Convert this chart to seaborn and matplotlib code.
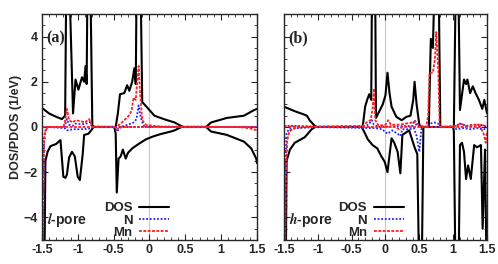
import matplotlib
matplotlib.use("Agg")
import matplotlib.pyplot as plt
import seaborn as sns
from matplotlib.ticker import MultipleLocator

# ---- panel (a): l-pore ----
a_dos_up_e = [-1.5, -1.4, -1.3, -1.22, -1.175, -1.155, -1.13, -1.065, -1.03, -0.99, -0.94, -0.91,
              -0.89, -0.875, -0.86, -0.83, -0.796, -0.78, -0.47, -0.44, -0.41, -0.35, -0.31, -0.28,
              -0.24, -0.21, -0.19, -0.175, -0.13, -0.10, -0.07, 0.07, 0.2, 0.35, 0.47, 0.79, 0.86,
              1.08, 1.32, 1.46, 1.5]
a_dos_up = [0.85, 0.6, 0.45, 0.35, 0.5, 8, 8, 0.6, 2.1, 1.65, 2.2, 2.0,
            2.7, 1.9, 8, 8, 0.1, 0, 0, 0.6, 1.45, 1.5, 1.85, 1.6,
            2.0, 2.6, 1.9, 8, 8, 1.1, 1.0, 0.5, 0.35, 0.2, 0, 0, 0.2,
            0.4, 0.5, 0.75, 0.8]
a_dos_dn_e = [-1.5, -1.47, -1.45, -1.42, -1.38, -1.3, -1.24, -1.2, -1.17, -1.15, -1.12, -1.08,
              -1.04, -1.0, -0.97, -0.93, -0.91, -0.85, -0.80, -0.78, -0.49, -0.47, -0.455,
              -0.43, -0.40, -0.37, -0.33, -0.30, -0.24, -0.15, -0.05, 0.05, 0.15, 0.3, 0.35,
              0.45, 0.79, 0.86, 1.08, 1.32, 1.42, 1.49, 1.5]
a_dos_dn = [-8, -8, -1.5, -1.1, -0.85, -0.75, -0.58, -2.2, -2.25, -2.1, -1.35, -1.1,
            -1.3, -2.2, -2.35, -1.2, -0.35, -0.3, -0.1, 0, 0, -0.3, -2.9,
            -1.4, -1.3, -1.0, -1.4, -1.15, -0.95, -0.75, -0.55, -0.42, -0.32, -0.2, -0.15,
            0, 0, -0.2, -0.35, -0.65, -0.95, -1.4, -1.6]
a_n_up_e = [-1.5, -1.2, -1.18, -1.15, -1.12, -1.07, -1.03, -0.95, -0.88, -0.83, -0.80, -0.40,
            -0.35, -0.3, -0.22, -0.18, -0.15, -0.12, -0.08, 0.0, 1.5]
a_n_up = [0, 0, 0.05, 0.35, 0.1, 0.05, 0.15, 0.12, 0.15, 0.22, 0.02, 0,
          0.05, 0.1, 0.2, 0.35, 0.95, 0.4, 0.05, 0.02, 0]
a_n_dn_e = [-1.49, -1.47, -1.45, -1.42, -1.18, -1.15, -1.1, -1.05, -0.95, -0.85, -0.8, -0.49,
            -0.45, -0.42, -0.38, 1.5]
a_n_dn = [-8, -0.6, -0.15, 0, -0.05, -0.15, -0.12, -0.1, -0.1, -0.08, 0, 0,
          -0.2, -0.05, 0, 0]
a_mn_up_e = [-1.5, -1.2, -1.18, -1.15, -1.12, -1.07, -1.03, -0.95, -0.9, -0.84, -0.8, -0.78,
             -0.46, -0.44, -0.4, -0.35, -0.3, -0.25, -0.22, -0.19, -0.17, -0.15, -0.13,
             -0.1, -0.05, 0.05, 0.2, 1.5]
a_mn_up = [0, 0, 0.2, 0.8, 0.3, 0.2, 0.3, 0.25, 0.2, 0.35, 0.05, 0,
           0, 0.05, 0.15, 0.3, 0.45, 0.7, 1.3, 1.2, 2.0, 2.7, 1.5,
           0.3, 0.1, 0.05, 0, 0]
a_mn_dn_e = [-1.49, -1.475, -1.46, -1.43, -1.4, -0.48, -0.45, -0.42, 1.2, 1.3, 1.4, 1.5]
a_mn_dn = [-8, -1.5, -0.3, -0.05, 0, 0, -0.1, 0, 0, -0.02, -0.06, -0.15]

# ---- panel (b): h-pore ----
b_dos_up_e = [-1.5, -1.34, -1.2, -1.16, -1.12, -1.06, -1.02, -0.34, -0.33, -0.30, -0.27, -0.24,
              -0.21, -0.195, -0.155, -0.14, -0.09, -0.04, 0.0, 0.03, 0.06, 0.09, 0.16, 0.24,
              0.31, 0.37, 0.41, 0.43, 0.46, 0.5, 0.53, 0.64, 0.67, 0.70, 0.74, 0.78, 0.81,
              1.01, 1.045, 1.07, 1.10, 1.16, 1.19, 1.21, 1.25, 1.29, 1.33, 1.38, 1.43, 1.46, 1.5]
b_dos_up = [0.9, 0.7, 0.55, 0.5, 0.3, 0.1, 0, 0, 0.15, 0.9, 1.2, 1.45,
            1.2, 8, 8, 0.4, 0.7, 1.0, 1.4, 2.4, 1.5, 0.9, 0.45, 0.3,
            0.45, 0.5, 1.2, 2.0, 1.0, 0.1, 0, 0, 3.9, 3.5, 8, 8, 0,
            0, 8, 8, 0.75, 2.1, 1.9, 2.1, 1.5, 1.8, 1.5, 1.2, 0.8, 1.2, 0.6]
b_dos_dn_e = [-1.5, -1.475, -1.46, -1.41, -1.34, -1.19, -1.09, -1.04, -0.35, -0.30, -0.26, -0.19,
              -0.12, -0.06, -0.01, 0.03, 0.09, 0.13, 0.18, 0.22, 0.25, 0.35, 0.43, 0.47,
              0.505, 0.53, 0.56, 1.0, 1.01, 1.04, 1.075, 1.10, 1.13, 1.16, 1.19, 1.22, 1.26,
              1.31, 1.35, 1.41, 1.435, 1.47, 1.5]
b_dos_dn = [-8, -8, -1.5, -1.0, -0.7, -0.45, -0.1, 0, 0, -0.3, -0.55, -0.8,
            -0.95, -1.3, -1.55, -2.0, -0.5, -0.7, -1.1, -2.05, -0.35, -0.15, -0.9, -1.2,
            -8, -8, 0, 0, -0.2, -8, -8, -0.8, -0.7, -1.1, -2.3, -1.7, -2.3,
            -0.8, -0.9, -0.8, -4.5, -1.0, -8]
b_n_up_e = [-1.5, -1.3, -1.0, -0.35, -0.25, -0.2, -0.17, -0.1, 0.4, 0.43, 0.46, 0.62, 0.66,
            0.72, 0.78, 0.8, 1.0, 1.05, 1.1, 1.2, 1.3, 1.4, 1.5]
b_n_up = [0.05, 0.05, 0, 0, 0.1, 0.3, 0.1, 0, 0.05, 0.3, 0.05, 0, 0.15,
          0.2, 0.15, 0, 0, 0.05, 0.15, 0.05, 0.1, 0.1, 0]
b_n_dn_e = [-1.49, -1.47, -1.46, -1.43, -1.3, -1.0, -0.15, -0.05, 0.03, 0.1, 0.18, 0.22, 0.25,
            0.35, 0.42, 0.46, 0.5, 0.53, 0.56, 1.0, 1.05, 1.15, 1.25, 1.35, 1.45, 1.5]
b_n_dn = [-8, -1.2, -0.3, -0.1, -0.05, 0, -0.05, -0.1, -0.3, -0.15, -0.3, -0.4, -0.1,
          -0.1, -0.05, -0.4, -1.1, -0.1, 0, 0, -0.1, -0.05, -0.1, -0.05, -0.1, -0.05]
b_mn_up_e = [-1.5, -1.0, -0.33, -0.28, -0.22, -0.19, -0.17, -0.15, -0.1, 0.0, 0.04, 0.08, 0.2,
             0.3, 0.4, 0.44, 0.5, 0.6, 0.63, 0.65, 0.7, 0.73, 0.75, 0.78, 0.8, 0.82, 1.05,
             1.1, 1.2, 1.35, 1.5]
b_mn_up = [0.02, 0.02, 0.05, 0.2, 0.3, 0.8, 1.7, 0.3, 0.05, 0.1, 0.3, 0.1, 0.1,
           0.15, 0.2, 0.25, 0.05, 0, 0.5, 2.4, 2.4, 3.0, 4.2, 2.5, 0.1, 0, 0.05,
           0.15, 0.05, 0.1, 0.05]
b_mn_dn_e = [-1.49, -1.47, -1.45, -1.42, -1.35, -1.2, 0.15, 0.2, 0.25, 1.4, 1.45, 1.48, 1.5]
b_mn_dn = [-8, -2.0, -0.6, -0.2, -0.05, 0, 0, -0.1, 0, 0, -0.3, -0.7, -0.2]

panels = [
    ("(a)", "$l$-pore", (a_dos_up_e, a_dos_up), (a_dos_dn_e, a_dos_dn), (a_n_up_e, a_n_up),
     (a_n_dn_e, a_n_dn), (a_mn_up_e, a_mn_up), (a_mn_dn_e, a_mn_dn)),
    ("(b)", "$h$-pore", (b_dos_up_e, b_dos_up), (b_dos_dn_e, b_dos_dn), (b_n_up_e, b_n_up),
     (b_n_dn_e, b_n_dn), (b_mn_up_e, b_mn_up), (b_mn_dn_e, b_mn_dn)),
]

sns.set_style("ticks")
plt.rcParams["font.family"] = ["Liberation Sans", "DejaVu Sans"]
plt.rcParams["font.weight"] = "bold"
plt.rcParams["mathtext.fontset"] = "stix"
plt.rcParams["xtick.direction"] = "in"
plt.rcParams["ytick.direction"] = "in"

fig = plt.figure(figsize=(4.98, 2.64), dpi=100)
ax_a = fig.add_axes([0.084, 0.091, 0.432, 0.856])
ax_b = fig.add_axes([0.570, 0.091, 0.408, 0.856])

styles = {
    "DOS": dict(color="black", lw=1.5, linestyle="-"),
    "N": dict(color="#2020ff", lw=1.3, linestyle=(0, (1, 1))),
    "Mn": dict(color="#ff2020", lw=1.3, linestyle=(0, (1.6, 0.8))),
}

for ax, (tag, pore, dup, ddn, nup, ndn, mup, mdn) in zip([ax_a, ax_b], panels):
    ax.axvline(0, color="#c8c8c8", lw=0.8, zorder=0)
    for name, up, dn in [("DOS", dup, ddn), ("N", nup, ndn), ("Mn", mup, mdn)]:
        sns.lineplot(x=up[0], y=up[1], ax=ax, estimator=None, sort=False, label=name, **styles[name])
        sns.lineplot(x=dn[0], y=dn[1], ax=ax, estimator=None, sort=False, **styles[name])
    ax.set_xlim(-1.5, 1.5)
    ax.set_ylim(-5, 5)
    ax.xaxis.set_major_locator(MultipleLocator(0.5))
    ax.xaxis.set_minor_locator(MultipleLocator(0.1))
    ax.yaxis.set_major_locator(MultipleLocator(2))
    ax.yaxis.set_minor_locator(MultipleLocator(0.5))
    ax.tick_params(which="both", top=True, right=True, labelsize=9, pad=3)
    ax.tick_params(which="major", length=4.5, width=0.8)
    ax.tick_params(which="minor", length=2.3, width=0.6)
    ax.xaxis.set_major_formatter(plt.FuncFormatter(lambda v, p: f"{v:g}"))
    for s in ax.spines.values():
        s.set_linewidth(1.0)
    ax.text(0.022, 0.89, tag, transform=ax.transAxes, family="Liberation Serif",
            fontsize=11.5, fontweight="bold", va="center", ha="left")
    ax.text(0.025, 0.088, pore + " ", transform=ax.transAxes, fontsize=10,
            fontweight="bold", va="center", ha="left")
    ax.legend(loc="lower right", bbox_to_anchor=(0.63, -0.03), frameon=False,
              markerfirst=False, fontsize=9.5, handlelength=2.3, handletextpad=0.5,
              labelspacing=0.0, borderaxespad=0.2)
    ax.set_xlabel("")
    ax.set_ylabel("")

ax_a.set_ylabel("DOS/PDOS (1/eV)", fontsize=9, fontweight="bold", labelpad=1)
ax_b.set_yticklabels([])

fig.savefig("out.png", dpi=100)
